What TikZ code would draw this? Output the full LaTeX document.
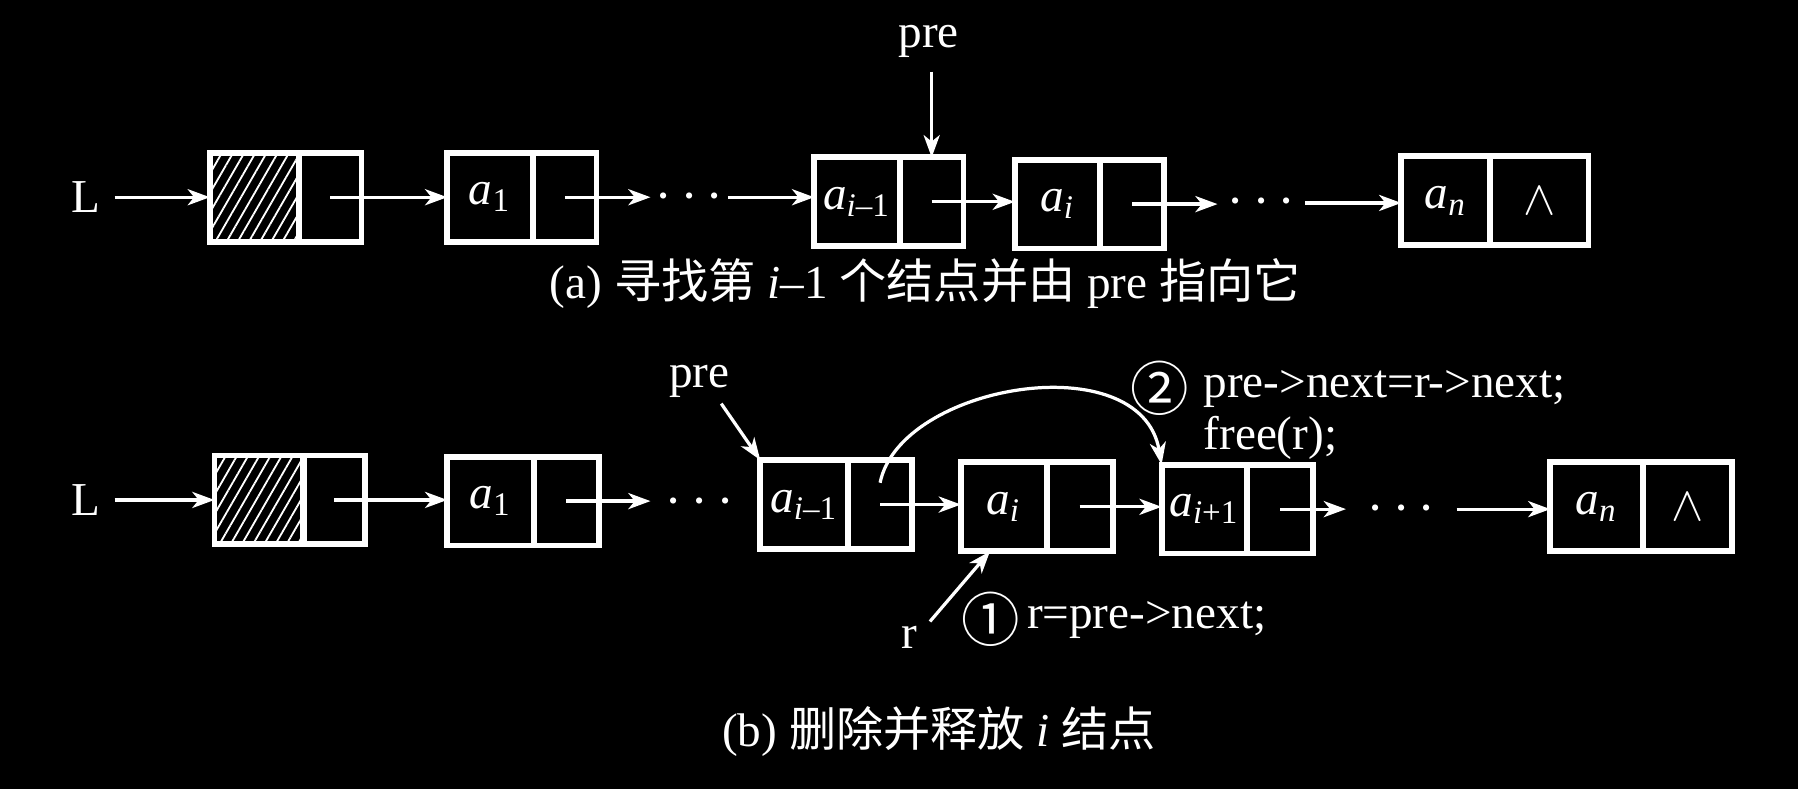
\documentclass[tikz,border=0pt]{standalone}
\usepackage{fontspec}
\setmainfont{Liberation Serif}
\newfontfamily\cjk{Noto Sans CJK SC}
\usetikzlibrary{arrows.meta,patterns.meta,calc}
\newcommand\lnode[7]{%
  \node[cellst, minimum width=#4cm, anchor=west] (#1d) at (#2,#3) {#6};
  \node[cellst, minimum width=#5cm, anchor=west] (#1p) at (#1d.east) {#7};
  \draw[outerst] (#1d.north west) rectangle (#1p.south east);
}
\newcommand\av[1]{\textit{a}\textsubscript{#1}}
\newcommand\circnum[1]{{\cjk\fontsize{14.5}{16}\selectfont #1}}
\newcommand\mydots{{\fontsize{14}{14}\selectfont$\cdots$}}
\begin{document}
\begin{tikzpicture}[x=0.01cm, y=-0.01cm,
  every node/.style={text=white, font=\fontsize{11.7}{14}\selectfont},
  cellst/.style={draw=white, line width=0.75pt, minimum height=0.75cm, inner sep=0pt},
  outerst/.style={draw=white, line width=1.4pt},
  arr/.style={draw=white, line width=0.8pt, -{Stealth[length=5.5pt,width=4pt,inset=1.6pt]}},
  hatch/.style={pattern={Lines[angle=60,distance=2.4pt,line width=0.45pt]}, pattern color=white},
  dotsst/.style={inner sep=0pt, minimum height=0.3cm},
  lbl/.style={inner sep=0pt},
  codest/.style={inner sep=0pt, anchor=west, text height=7pt, text depth=2.5pt}
]
\fill[black] (0,0) rectangle (1568,688);
\useasboundingbox (0,0) rectangle (1568,688);

% ---------- row (a) ----------
\lnode{ha0}{183}{172}{0.75}{0.52}{}{}
\fill[hatch] (ha0d.north west) rectangle (ha0d.south east);
\lnode{ha1}{390}{172}{0.72}{0.53}{\av{1}}{}
\lnode{ham}{710}{176}{0.72}{0.53}{\av{\textit{i}–1}}{}
\lnode{hai}{885}{178}{0.72}{0.53}{\av{\textit{i}}}{}
\lnode{han}{1222}{175}{0.75}{0.83}{\av{\textit{n}}}{$\wedge$}

\node (LA) at (75,172) {L};
\node[dotsst, minimum width=0.66cm] (dA1) at (601,172) {\mydots};
\node[dotsst, minimum width=0.75cm] (dA2) at (1100,177) {\mydots};

\draw[arr] (LA.east) -- (LA.east -| ha0d.west);
\draw[arr] (ha0p.center) -- (ha0p.center -| ha1d.west);
\draw[arr] (ha1p.center) -- (ha1p.center -| dA1.west);
\draw[arr] (dA1.east) -- (dA1.east -| hamd.west);
\draw[arr] (hamp.center) -- (hamp.center -| haid.west);
\draw[arr] (haip.center) -- (haip.center -| dA2.west);
\draw[arr] (dA2.east) -- (dA2.east -| hand.west);

\node (preA) at (810,36) {pre};
\draw[arr] (hamp.north |- preA.south) -- (hamp.north);

\node (capA) at (807,247) {(a) {\cjk 寻找第} \textit{i}–1 {\cjk 个结点并由} pre {\cjk 指向它}};

% ---------- row (b) ----------
\lnode{hb0}{187}{436}{0.75}{0.51}{}{}
\fill[hatch] (hb0d.north west) rectangle (hb0d.south east);
\lnode{hb1}{390}{437}{0.73}{0.54}{\av{1}}{}
\lnode{bam}{663}{440}{0.74}{0.53}{\av{\textit{i}–1}}{}
\lnode{bai}{838}{442}{0.72}{0.55}{\av{\textit{i}}}{}
\lnode{baj}{1013}{444}{0.72}{0.55}{\av{\textit{i}+1}}{}
\lnode{ban}{1352}{442}{0.78}{0.75}{\av{\textit{n}}}{$\wedge$}

\node (LB) at (75,436) {L};
\node[dotsst, minimum width=0.84cm] (dB1) at (610,438) {\mydots};
\node[dotsst, minimum width=0.95cm] (dB2) at (1222,444) {\mydots};

\draw[arr] (LB.east) -- (LB.east -| hb0d.west);
\draw[arr] (hb0p.center) -- (hb0p.center -| hb1d.west);
\draw[arr] (hb1p.center) -- (hb1p.center -| dB1.west);
\draw[arr] (bamp.center) -- (bamp.center -| baid.west);
\draw[arr] (baip.center) -- (baip.center -| bajd.west);
\draw[arr] (bajp.center) -- (bajp.center -| dB2.west);
\draw[arr] (dB2.east) -- (dB2.east -| band.west);

\node (preB) at (610,333) {pre};
\coordinate (pbs) at (629,352);
\draw[arr] (pbs) -- (bamd.north west);

\draw[arr] ([yshift=0.19cm]bamp.center) .. controls (785,335) and (995,300) .. (bajd.north west);

\node[lbl] (c2) at (1011,339) {\circnum{②}};
\node[inner sep=0pt, anchor=north west, align=left, font=\fontsize{11.7}{13}\selectfont] (t2) at (1049,322) {pre->next=r->next;\\free(r);};

\node (rlab) at (793,556) {r};
\coordinate (rs) at (811,542);
\draw[arr] (rs) -- ([xshift=-0.12cm]baid.south);
\node[lbl] (c1) at (864,540) {\circnum{①}};
\node[codest] (t1) at (895,540) {r=pre->next;};

\node (capB) at (819,638) {(b) {\cjk 删除并释放} \textit{i} {\cjk 结点}};
\end{tikzpicture}
\end{document}
